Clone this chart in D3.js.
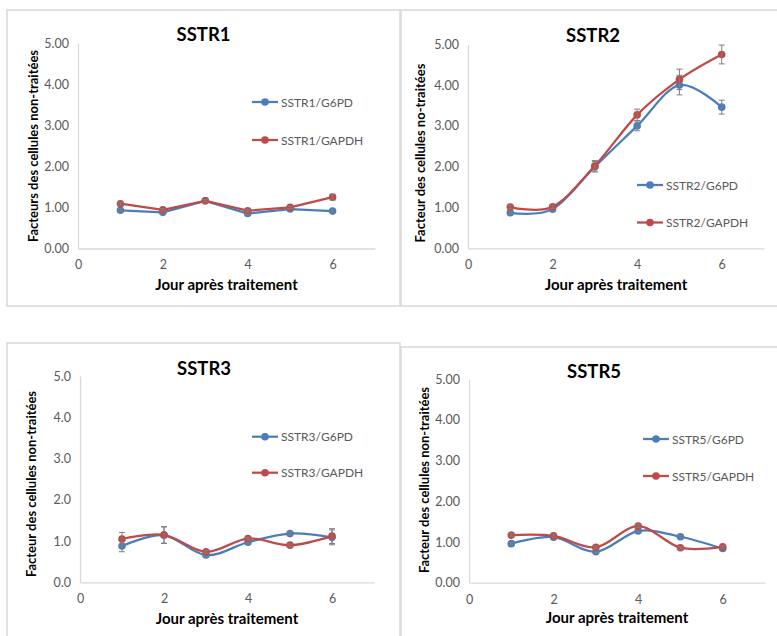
<!DOCTYPE html>
<html>
<head>
<meta charset="utf-8">
<script src="https://cdn.jsdelivr.net/npm/d3@7"></script>
<style>
  html, body { margin: 0; padding: 0; background: #fff; }
  svg { display: block; font-family: Lato, "Open Sans", sans-serif; }
</style>
</head>
<body>
<svg id="fig" width="777" height="636"></svg>
<script>
// Days after treatment (x values shared by every series)
const days = [1, 2, 3, 4, 5, 6];
const xTicks = [0, 2, 4, 6];
const yTicks = [0, 1, 2, 3, 4, 5];

// SSTR1 expression factor vs. untreated cells
const sstr1G6pd = [0.93, 0.88, 1.16, 0.85, 0.96, 0.91];
const sstr1G6pdErr = [0.03, 0.03, 0.03, 0.03, 0.03, 0.03];
const sstr1Gapdh = [1.09, 0.94, 1.16, 0.92, 1.00, 1.25];
const sstr1GapdhErr = [0.03, 0.03, 0.03, 0.03, 0.03, 0.07];

// SSTR2
const sstr2G6pd = [0.87, 0.96, 2.00, 3.00, 4.00, 3.46];
const sstr2G6pdErr = [0.03, 0.03, 0.13, 0.12, 0.24, 0.17];
const sstr2Gapdh = [1.01, 1.02, 2.02, 3.27, 4.14, 4.75];
const sstr2GapdhErr = [0.04, 0.04, 0.13, 0.14, 0.25, 0.23];

// SSTR3
const sstr3G6pd = [0.88, 1.14, 0.66, 0.97, 1.18, 1.09];
const sstr3G6pdErr = [0.14, 0.20, 0.03, 0.04, 0.05, 0.18];
const sstr3Gapdh = [1.05, 1.15, 0.74, 1.06, 0.90, 1.12];
const sstr3GapdhErr = [0.16, 0.20, 0.03, 0.03, 0.03, 0.18];

// SSTR5
const sstr5G6pd = [0.96, 1.12, 0.76, 1.27, 1.13, 0.84];
const sstr5G6pdErr = [0.03, 0.03, 0.03, 0.03, 0.03, 0.03];
const sstr5Gapdh = [1.17, 1.15, 0.87, 1.39, 0.86, 0.88];
const sstr5GapdhErr = [0.03, 0.03, 0.03, 0.03, 0.03, 0.03];

const BLUE = "#4a7ebb";
const RED = "#be4b48";
const AXIS = "#d9d9d9";
const TICK_TEXT = "#595959";

const panels = [
  {
    title: "SSTR1", yLabel: "Facteurs des cellules non-traitées", yFmt: ".2f", smooth: false,
    box: [7, 10, 400, 306], plot: [78, 375, 43, 248.5], titleY: 41, xLabelY: 290, yLabelX: 38, yLabelC: 146,
    legend: [252, 102, 38],
    series: [
      { name: "SSTR1/G6PD", values: sstr1G6pd, err: sstr1G6pdErr, color: BLUE },
      { name: "SSTR1/GAPDH", values: sstr1Gapdh, err: sstr1GapdhErr, color: RED }
    ]
  },
  {
    title: "SSTR2", yLabel: "Facteur des cellules no-traitées", yFmt: ".2f", smooth: true,
    box: [401, 10, 790, 306], plot: [468, 764, 44.3, 248.3], titleY: 42, xLabelY: 290, yLabelX: 425, yLabelC: 153,
    legend: [637, 185, 37.5],
    series: [
      { name: "SSTR2/G6PD", values: sstr2G6pd, err: sstr2G6pdErr, color: BLUE },
      { name: "SSTR2/GAPDH", values: sstr2Gapdh, err: sstr2GapdhErr, color: RED }
    ]
  },
  {
    title: "SSTR3", yLabel: "Facteur des cellules non-traitées", yFmt: ".1f", smooth: true,
    box: [7, 343, 400, 650], plot: [80, 374, 376, 582.3], titleY: 375, xLabelY: 624, yLabelX: 36, yLabelC: 484,
    legend: [252, 436.7, 36],
    series: [
      { name: "SSTR3/G6PD", values: sstr3G6pd, err: sstr3G6pdErr, color: BLUE },
      { name: "SSTR3/GAPDH", values: sstr3Gapdh, err: sstr3GapdhErr, color: RED }
    ]
  },
  {
    title: "SSTR5", yLabel: "Facteur des cellules non-traitées", yFmt: ".2f", smooth: true,
    box: [401, 347, 790, 650], plot: [469, 765, 379.3, 582.7], titleY: 378, xLabelY: 623, yLabelX: 429, yLabelC: 480,
    legend: [643, 439, 37],
    series: [
      { name: "SSTR5/G6PD", values: sstr5G6pd, err: sstr5G6pdErr, color: BLUE },
      { name: "SSTR5/GAPDH", values: sstr5Gapdh, err: sstr5GapdhErr, color: RED }
    ]
  }
];

const svg = d3.select("#fig");

panels.forEach(p => {
  const g = svg.append("g");
  const [bx0, by0, bx1, by1] = p.box;
  g.append("rect")
    .attr("x", bx0).attr("y", by0)
    .attr("width", bx1 - bx0).attr("height", by1 - by0)
    .attr("fill", "#fff").attr("stroke", AXIS).attr("stroke-width", 1.5);

  const [px0, px1, pyTop, pyBot] = p.plot;
  const x = d3.scaleLinear().domain([0, 7]).range([px0, px1]);
  const y = d3.scaleLinear().domain([0, 5]).range([pyBot, pyTop]);

  // Axes: plain light lines, no tick marks
  const xAxis = g.append("g").attr("transform", `translate(0,${pyBot})`)
    .call(d3.axisBottom(x).tickValues(xTicks).tickSize(0).tickPadding(12).tickFormat(d3.format("d")));
  const yAxis = g.append("g").attr("transform", `translate(${px0},0)`)
    .call(d3.axisLeft(y).tickValues(yTicks).tickSize(0).tickPadding(9).tickFormat(d3.format(p.yFmt)));
  [xAxis, yAxis].forEach(a => {
    a.select(".domain").attr("stroke", AXIS).attr("stroke-width", 1.3);
    a.selectAll("text").attr("fill", TICK_TEXT).style("font-size", "12.5px")
      .style("font-family", "Lato, 'Open Sans', sans-serif");
  });

  // Title
  g.append("text").attr("x", (px0 + px1) / 2 - 23).attr("y", p.titleY)
    .attr("text-anchor", "middle").style("font-weight", "bold").style("font-size", "18.5px")
    .attr("fill", "#000").text(p.title);

  // Axis titles
  g.append("text").attr("x", (px0 + px1) / 2).attr("y", p.xLabelY)
    .attr("text-anchor", "middle").style("font-weight", "bold").style("font-size", "15px")
    .attr("fill", "#000").text("Jour après traitement");
  g.append("text")
    .attr("transform", `translate(${p.yLabelX},${p.yLabelC}) rotate(-90)`)
    .attr("text-anchor", "middle").style("font-weight", "bold").style("font-size", "13px")
    .attr("fill", "#000").text(p.yLabel);

  const line = d3.line()
    .x((d, i) => x(days[i]))
    .y(d => y(d))
    .curve(p.smooth ? d3.curveCardinal.tension(0) : d3.curveLinear);

  p.series.forEach(s => {
    const sg = g.append("g");
    sg.append("path").datum(s.values)
      .attr("d", line).attr("fill", "none")
      .attr("stroke", s.color).attr("stroke-width", 2.25)
      .attr("stroke-linejoin", "round");
    sg.selectAll("circle").data(s.values).join("circle")
      .attr("cx", (d, i) => x(days[i])).attr("cy", d => y(d))
      .attr("r", 3.8).attr("fill", s.color);
    // Error bars
    const eb = sg.selectAll("g.err").data(s.values).join("g").attr("class", "err");
    eb.append("line")
      .attr("x1", (d, i) => x(days[i])).attr("x2", (d, i) => x(days[i]))
      .attr("y1", (d, i) => y(d + s.err[i])).attr("y2", (d, i) => y(d - s.err[i]))
      .attr("stroke", "#7f7f7f").attr("stroke-width", 1);
    [1, -1].forEach(sign => {
      eb.append("line")
        .attr("x1", (d, i) => x(days[i]) - 3).attr("x2", (d, i) => x(days[i]) + 3)
        .attr("y1", (d, i) => y(d + sign * s.err[i])).attr("y2", (d, i) => y(d + sign * s.err[i]))
        .attr("stroke", "#7f7f7f").attr("stroke-width", 1);
    });
  });

  // Legend
  const [lx, ly, gap] = p.legend;
  p.series.forEach((s, i) => {
    const yy = ly + i * gap;
    const lg = g.append("g");
    lg.append("line").attr("x1", lx).attr("x2", lx + 26).attr("y1", yy).attr("y2", yy)
      .attr("stroke", s.color).attr("stroke-width", 2.25);
    lg.append("circle").attr("cx", lx + 13).attr("cy", yy).attr("r", 3.8).attr("fill", s.color);
    lg.append("text").attr("x", lx + 29).attr("y", yy + 4.5)
      .style("font-size", "12px").attr("fill", TICK_TEXT).text(s.name);
  });
});
</script>
</body>
</html>
